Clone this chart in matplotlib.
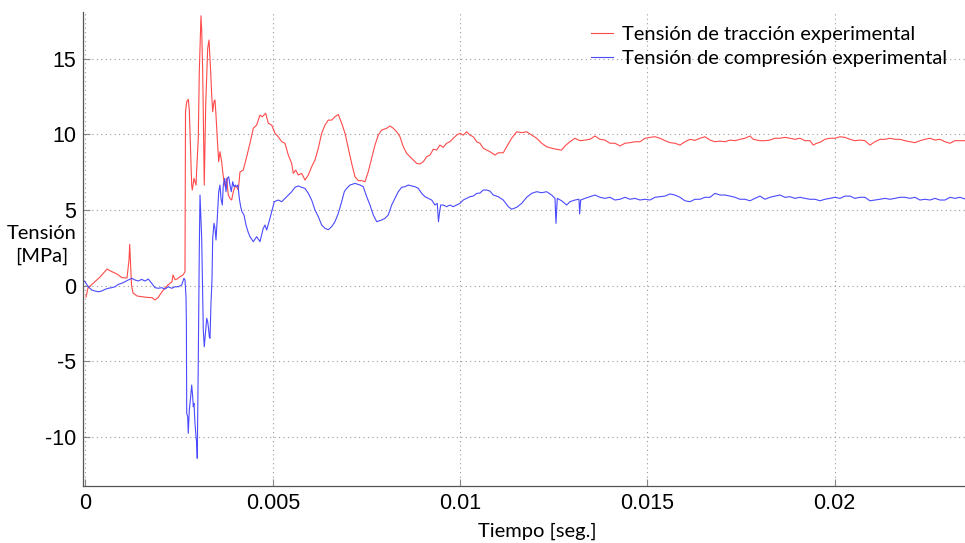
import matplotlib
matplotlib.use("Agg")
import matplotlib.pyplot as plt
from matplotlib import font_manager

# Strain-gauge stress records: time in milliseconds, stress in MPa
t_trac_ms = [0.013, 0.067, 0.387, 0.574, 0.654, 0.841, 0.975, 1.108, 1.161, 1.180, 1.201, 1.228,
             1.268, 1.375, 1.535, 1.641, 1.775, 1.855, 1.935, 2.042, 2.122, 2.202, 2.309, 2.336,
             2.389, 2.443, 2.523, 2.603, 2.656, 2.670, 2.702, 2.744, 2.771, 2.790, 2.835, 2.851,
             2.896, 2.923, 2.950, 2.968, 3.011, 3.038, 3.057, 3.083, 3.102, 3.129, 3.150, 3.171,
             3.209, 3.262, 3.297, 3.342, 3.369, 3.396, 3.430, 3.457, 3.484, 3.518, 3.556, 3.590,
             3.636, 3.663, 3.697, 3.732, 3.769, 3.812, 3.857, 3.903, 3.946, 3.991, 4.036, 4.079,
             4.124, 4.212, 4.303, 4.391, 4.479, 4.570, 4.658, 4.720, 4.810, 4.880, 4.971, 5.059,
             5.147, 5.238, 5.326, 5.414, 5.505, 5.547, 5.611, 5.681, 5.771, 5.860, 5.948, 6.038,
             6.127, 6.215, 6.305, 6.394, 6.482, 6.572, 6.660, 6.749, 6.839, 6.928, 7.016, 7.106,
             7.194, 7.283, 7.373, 7.461, 7.549, 7.640, 7.728, 7.816, 7.907, 8.041, 8.129, 8.217,
             8.308, 8.396, 8.484, 8.575, 8.663, 8.751, 8.841, 8.930, 9.018, 9.108, 9.197, 9.285,
             9.375, 9.463, 9.551, 9.642, 9.730, 9.818, 9.909, 9.997, 10.085, 10.176, 10.264, 10.352,
             10.443, 10.531, 10.619, 10.710, 10.798, 10.932, 11.020, 11.153, 11.244, 11.377, 11.511, 11.644,
             11.778, 11.911, 12.045, 12.178, 12.312, 12.445, 12.579, 12.712, 12.800, 12.934, 13.067, 13.201,
             13.334, 13.468, 13.601, 13.735, 13.868, 14.002, 14.135, 14.269, 14.402, 14.536, 14.669, 14.803,
             14.936, 15.070, 15.203, 15.337, 15.470, 15.604, 15.737, 15.871, 16.004, 16.138, 16.271, 16.405,
             16.538, 16.672, 16.805, 16.939, 17.072, 17.206, 17.339, 17.473, 17.606, 17.740, 17.827, 18.006,
             18.140, 18.273, 18.407, 18.540, 18.674, 18.807, 18.941, 19.074, 19.208, 19.341, 19.429, 19.519,
             19.608, 19.741, 19.875, 20.008, 20.142, 20.275, 20.409, 20.542, 20.676, 20.809, 20.943, 21.076,
             21.210, 21.343, 21.477, 21.610, 21.744, 21.877, 22.011, 22.144, 22.278, 22.411, 22.545, 22.678,
             22.812, 22.945, 23.079, 23.212, 23.346, 23.506]
s_trac = [-0.75, -0.15, 0.57, 1.10, 0.99, 0.77, 0.53, 0.51, 1.70, 2.73, 1.57, 0.05,
          -0.48, -0.68, -0.73, -0.77, -0.79, -0.94, -0.79, -0.40, -0.15, 0.05, 0.26, 0.71,
          0.41, 0.44, 0.59, 0.71, 0.92, 11.49, 12.15, 12.31, 11.60, 10.17, 6.65, 6.32,
          7.09, 6.87, 6.65, 7.64, 9.74, 14.13, 15.68, 17.83, 16.89, 14.13, 10.28, 6.65,
          11.94, 15.68, 16.23, 14.13, 12.60, 11.49, 12.15, 12.27, 11.27, 9.74, 8.19, 8.85,
          8.19, 7.53, 6.87, 6.54, 7.09, 5.99, 5.77, 5.66, 6.21, 6.54, 6.54, 6.32,
          7.51, 7.64, 8.52, 9.41, 10.40, 10.61, 11.27, 11.16, 11.39, 10.73, 10.61, 10.07,
          9.84, 9.51, 9.41, 8.63, 8.08, 7.42, 7.64, 7.31, 7.42, 6.98, 7.31, 7.86,
          8.30, 9.08, 10.07, 10.61, 10.94, 10.94, 11.16, 11.31, 10.73, 10.07, 9.08, 8.08,
          7.20, 6.94, 6.94, 6.87, 7.53, 8.41, 9.29, 9.95, 10.28, 10.40, 10.55, 10.40,
          10.17, 9.84, 9.18, 8.74, 8.52, 8.30, 8.08, 8.04, 8.19, 8.52, 8.63, 9.01,
          8.96, 9.29, 9.14, 9.41, 9.51, 9.74, 9.95, 10.07, 9.95, 10.17, 9.95, 9.84,
          9.51, 9.41, 9.08, 8.96, 8.85, 8.63, 8.78, 8.78, 9.18, 9.74, 10.17, 10.11,
          10.17, 9.95, 9.74, 9.41, 9.18, 9.08, 9.01, 8.96, 9.23, 9.51, 9.74, 9.58,
          9.62, 9.67, 9.89, 9.67, 9.62, 9.41, 9.41, 9.23, 9.41, 9.45, 9.51, 9.51,
          9.74, 9.80, 9.84, 9.74, 9.58, 9.45, 9.41, 9.29, 9.51, 9.67, 9.60, 9.74,
          9.84, 9.62, 9.51, 9.55, 9.51, 9.62, 9.58, 9.67, 9.74, 9.89, 9.67, 9.58,
          9.58, 9.62, 9.74, 9.74, 9.80, 9.74, 9.67, 9.74, 9.58, 9.58, 9.29, 9.41,
          9.47, 9.67, 9.74, 9.74, 9.84, 9.80, 9.67, 9.58, 9.62, 9.58, 9.29, 9.51,
          9.67, 9.67, 9.74, 9.67, 9.67, 9.58, 9.51, 9.45, 9.58, 9.67, 9.74, 9.62,
          9.67, 9.51, 9.41, 9.58, 9.58, 9.58]

t_comp_ms = [-0.067, -0.013, 0.075, 0.166, 0.254, 0.342, 0.432, 0.521, 0.609, 0.699, 0.788, 0.876,
             0.966, 1.054, 1.143, 1.233, 1.321, 1.410, 1.500, 1.588, 1.676, 1.767, 1.855, 1.943,
             2.034, 2.122, 2.210, 2.301, 2.389, 2.477, 2.568, 2.629, 2.656, 2.683, 2.693, 2.702,
             2.728, 2.744, 2.771, 2.808, 2.835, 2.862, 2.878, 2.896, 2.923, 2.950, 2.968, 2.984,
             3.011, 3.038, 3.057, 3.102, 3.129, 3.145, 3.171, 3.209, 3.236, 3.262, 3.289, 3.305,
             3.324, 3.350, 3.377, 3.396, 3.430, 3.457, 3.484, 3.518, 3.556, 3.590, 3.617, 3.652,
             3.679, 3.716, 3.751, 3.785, 3.823, 3.857, 3.892, 3.930, 3.964, 3.999, 4.036, 4.071,
             4.106, 4.143, 4.178, 4.231, 4.285, 4.338, 4.391, 4.479, 4.570, 4.658, 4.746, 4.792,
             4.837, 4.925, 4.971, 5.040, 5.147, 5.238, 5.326, 5.414, 5.505, 5.593, 5.681, 5.771,
             5.860, 5.948, 6.038, 6.127, 6.215, 6.305, 6.394, 6.482, 6.572, 6.660, 6.749, 6.839,
             6.909, 6.973, 7.061, 7.194, 7.328, 7.416, 7.507, 7.595, 7.683, 7.774, 7.907, 7.995,
             8.083, 8.174, 8.262, 8.350, 8.441, 8.529, 8.617, 8.708, 8.796, 8.884, 8.975, 9.063,
             9.151, 9.242, 9.330, 9.391, 9.423, 9.450, 9.482, 9.551, 9.642, 9.730, 9.818, 9.909,
             9.997, 10.085, 10.176, 10.264, 10.352, 10.443, 10.531, 10.619, 10.710, 10.798, 10.886, 11.020,
             11.153, 11.287, 11.377, 11.511, 11.644, 11.778, 11.911, 12.045, 12.178, 12.312, 12.445, 12.534,
             12.560, 12.595, 12.712, 12.846, 12.934, 13.067, 13.174, 13.193, 13.219, 13.334, 13.468, 13.601,
             13.735, 13.868, 14.002, 14.135, 14.269, 14.402, 14.536, 14.669, 14.803, 14.936, 15.070, 15.203,
             15.337, 15.470, 15.604, 15.737, 15.871, 16.004, 16.138, 16.271, 16.405, 16.538, 16.672, 16.805,
             16.939, 17.072, 17.206, 17.339, 17.473, 17.606, 17.740, 17.873, 18.006, 18.140, 18.273, 18.407,
             18.540, 18.674, 18.807, 18.941, 19.074, 19.208, 19.341, 19.475, 19.608, 19.741, 19.875, 20.008,
             20.142, 20.275, 20.409, 20.542, 20.676, 20.809, 20.943, 21.076, 21.210, 21.343, 21.477, 21.610,
             21.744, 21.877, 22.011, 22.144, 22.278, 22.411, 22.545, 22.678, 22.812, 22.945, 23.079, 23.212,
             23.346, 23.506]
s_comp = [0.38, 0.26, -0.07, -0.28, -0.35, -0.40, -0.35, -0.24, -0.17, -0.13, -0.07, 0.09,
          0.16, 0.26, 0.38, 0.49, 0.38, 0.31, 0.42, 0.31, 0.44, 0.16, -0.13, -0.17,
          -0.13, -0.22, -0.07, -0.17, -0.07, -0.07, 0.05, 0.49, 0.38, -0.73, -2.27, -8.43,
          -8.65, -9.75, -8.21, -7.33, -6.56, -7.33, -7.99, -7.77, -9.09, -9.97, -10.41, -11.40,
          -4.91, 2.36, 5.99, 3.13, -0.73, -2.93, -4.03, -2.93, -2.15, -2.38, -2.93, -3.37,
          -3.47, -1.16, 0.38, 3.13, 4.12, 3.79, 3.02, 4.45, 6.21, 6.65, 5.77, 5.33,
          6.65, 7.09, 6.21, 7.09, 7.20, 6.65, 6.21, 6.87, 6.54, 6.65, 6.54, 6.65,
          5.77, 5.22, 4.89, 4.67, 4.01, 3.57, 3.24, 2.91, 3.24, 2.91, 3.79, 4.01,
          3.68, 4.45, 4.89, 5.55, 5.66, 5.55, 5.77, 5.99, 6.21, 6.50, 6.59, 6.50,
          6.43, 6.10, 5.66, 5.00, 4.56, 4.01, 3.79, 3.70, 3.90, 4.23, 4.78, 5.55,
          6.21, 6.43, 6.65, 6.76, 6.65, 6.54, 5.88, 5.33, 4.67, 4.23, 4.34, 4.45,
          4.67, 5.33, 5.77, 6.21, 6.50, 6.54, 6.65, 6.59, 6.54, 6.43, 6.10, 5.88,
          5.77, 5.66, 5.33, 5.44, 4.23, 4.80, 5.33, 5.33, 5.22, 5.33, 5.22, 5.33,
          5.44, 5.66, 5.77, 5.88, 5.92, 6.10, 6.12, 6.32, 6.32, 6.25, 5.99, 5.88,
          5.66, 5.22, 5.05, 5.18, 5.44, 5.84, 6.10, 6.21, 6.14, 6.21, 5.99, 5.77,
          4.12, 5.77, 5.61, 5.33, 5.55, 5.66, 5.71, 4.74, 5.66, 5.77, 5.88, 5.99,
          5.84, 5.77, 5.84, 5.66, 5.71, 5.84, 5.71, 5.77, 5.66, 5.71, 5.66, 5.84,
          5.88, 5.92, 6.06, 5.99, 5.84, 5.61, 5.55, 5.71, 5.71, 5.84, 5.84, 6.10,
          5.99, 5.99, 5.92, 5.84, 5.71, 5.71, 5.61, 5.77, 5.92, 5.71, 5.84, 5.92,
          5.99, 5.84, 5.88, 5.77, 5.84, 5.77, 5.71, 5.71, 5.61, 5.71, 5.77, 5.84,
          5.77, 5.92, 5.92, 5.77, 5.84, 5.84, 5.61, 5.66, 5.71, 5.77, 5.71, 5.77,
          5.84, 5.84, 5.77, 5.84, 5.66, 5.71, 5.66, 5.77, 5.66, 5.66, 5.84, 5.77,
          5.84, 5.71]

x_ticks = [0, 0.005, 0.01, 0.015, 0.02]
x_ticklabels = ["0", "0.005", "0.01", "0.015", "0.02"]
y_ticks = [-10, -5, 0, 5, 10, 15]
y_ticklabels = ["-10", "-5", "0", "5", "10", "15"]
series_labels = ["Tensión de tracción experimental", "Tensión de compresión experimental"]

t_trac = [v / 1000.0 for v in t_trac_ms]
t_comp = [v / 1000.0 for v in t_comp_ms]

installed = {f.name for f in font_manager.fontManager.ttflist}
tick_font = "Liberation Sans" if "Liberation Sans" in installed else "DejaVu Sans"
text_font = "Lato" if "Lato" in installed else "DejaVu Sans"

fig = plt.figure(figsize=(9.65, 5.43), dpi=100)
ax = fig.add_axes([83 / 965, 1 - 486 / 543, 1 - 83 / 965, (486 - 12) / 543])

ax.plot(t_trac, s_trac, color="#ff4a4a", lw=0.8, label=series_labels[0])
ax.plot(t_comp, s_comp, color="#4a4aff", lw=0.8, label=series_labels[1])

ax.set_xlim(-0.0000667, 0.02348)
ax.set_ylim(-13.23, 18.08)

ax.set_xticks(x_ticks)
ax.set_xticklabels(x_ticklabels)
ax.set_yticks(y_ticks)
ax.set_yticklabels(y_ticklabels)
for lbl in ax.get_xticklabels() + ax.get_yticklabels():
    lbl.set_fontfamily(tick_font)
    lbl.set_fontsize(15.5)
ax.tick_params(direction="in", length=5, width=0.8, color="#888888", pad=5)

ax.grid(True, linestyle=(0, (1, 3)), color="#999999", linewidth=0.8)
for side in ("top", "right"):
    ax.spines[side].set_visible(False)
for side in ("left", "bottom"):
    ax.spines[side].set_color("#555555")
    ax.spines[side].set_linewidth(0.9)

fig.text(537 / 965, 1 - 531 / 543, "Tiempo [seg.]", ha="center", va="center",
         fontsize=14.5, family=text_font)
fig.text(42 / 965, 1 - 245 / 543, "Tensión\n[MPa]", ha="center", va="center",
         fontsize=14.5, family=text_font, linespacing=1.45)

leg = ax.legend(loc="upper left", bbox_to_anchor=(591 / 965, 1 - 26 / 543),
                bbox_transform=fig.transFigure, frameon=False,
                prop={"family": text_font, "size": 14.5}, handlelength=1.1,
                handletextpad=0.45, labelspacing=0.35, borderpad=0.0,
                borderaxespad=0.0)

fig.savefig("out.png", dpi=100)
